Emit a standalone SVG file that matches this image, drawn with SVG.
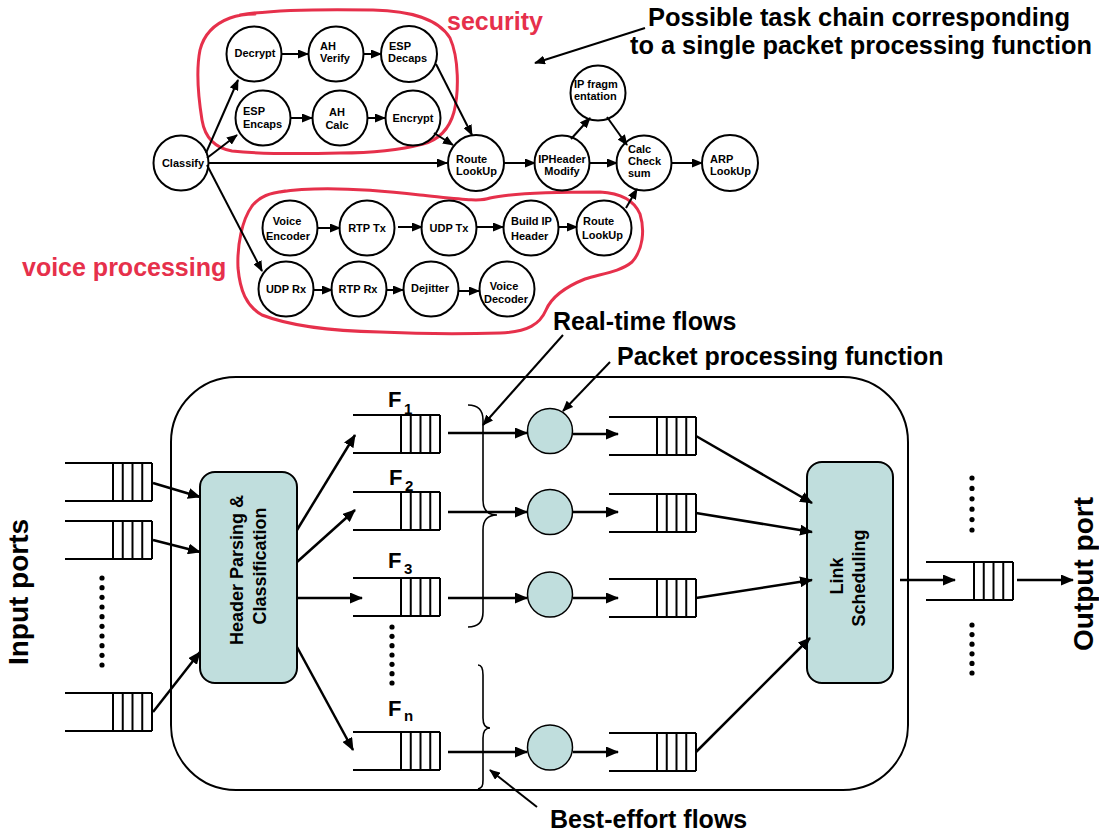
<svg xmlns="http://www.w3.org/2000/svg" width="1099" height="833" viewBox="0 0 1099 833">
  <style>
    text { font-family: "Liberation Sans", Arial, Helvetica, sans-serif; font-weight: bold; fill: #000; }
    .n { font-size: 11px; }
    .mid { text-anchor: middle; }
    .big { font-size: 25px; }
    .port { font-size: 28px; text-anchor: middle; }
    .box { font-size: 18px; text-anchor: middle; }
    .red { fill: #e6304b; }
    .task { fill: #fff; stroke: #000; stroke-width: 2; }
    .blob { fill: none; stroke: #e6304b; stroke-width: 3; stroke-linecap: round; stroke-linejoin: round; }
    .a { fill: none; stroke: #000; stroke-width: 2; marker-end: url(#ah); }
    .b { fill: none; stroke: #000; stroke-width: 2.5; marker-end: url(#bh); }
    .l { fill: none; stroke: #000; stroke-width: 2.5; }
    .q line { stroke: #000; stroke-width: 2; }
    .proc { fill: #c0dedd; stroke: #000; stroke-width: 1.5; }
    .stage { fill: #c0dedd; stroke: #000; stroke-width: 2; }
    .brace { fill: none; stroke: #000; stroke-width: 1.6; }
    .dot { fill: #000; }
  </style>
  <defs>
    <marker id="ah" markerUnits="userSpaceOnUse" markerWidth="11" markerHeight="9" refX="10" refY="4.5" orient="auto">
      <path d="M0,0 L11,4.5 L0,9 z" fill="#000"/>
    </marker>
    <marker id="bh" markerUnits="userSpaceOnUse" markerWidth="13" markerHeight="11" refX="12" refY="5.5" orient="auto">
      <path d="M0,0 L13,5.5 L0,11 z" fill="#000"/>
    </marker>
    <!-- FIFO queue: origin at the top of the closed right end -->
    <g id="queue" class="q">
      <line x1="-87" y1="0" x2="0" y2="0"/>
      <line x1="-87" y1="38" x2="0" y2="38"/>
      <line x1="-39" y1="0" x2="-39" y2="38"/>
      <line x1="-29.25" y1="0" x2="-29.25" y2="38"/>
      <line x1="-19.5" y1="0" x2="-19.5" y2="38"/>
      <line x1="-9.75" y1="0" x2="-9.75" y2="38"/>
      <line x1="0" y1="0" x2="0" y2="38"/>
    </g>
  </defs>

  <rect width="1099" height="833" fill="#fff"/>

  <!-- ===== task chain ===== -->
  <g id="group-security">
    <path class="blob" d="M240,15 C270,10 320,9 373,10 C410,11 438,18 450,38 C459,58 459,92 454,112 C449,130 438,140 423,144 C400,150 370,153 340,153 C300,154 260,154 232,151 C215,148 205,138 202,120 C198,95 196,70 200,50 C204,34 214,24 230,18 C238,15 248,14 255,14"/>
    <text class="big red" x="447" y="30">security</text>
  </g>
  <g id="group-voice">
    <path class="blob" d="M280,192 C310,187 360,188 420,195 C460,199 480,202 490,198 C510,193 560,192 600,192 C620,193 634,200 640,214 C645,230 643,250 632,262 C620,272 600,274 585,279 C565,287 552,296 546,310 C540,324 528,332 500,333 C470,334 420,334 380,332 C330,331 290,326 262,315 C246,306 240,290 238,268 C237,245 242,220 252,206 C260,196 270,193 285,191"/>
    <text class="big red" x="22" y="276">voice processing</text>
  </g>

  <text class="big" x="648" y="26" textLength="422" lengthAdjust="spacingAndGlyphs">Possible task chain corresponding</text>
  <text class="big" x="630" y="54" textLength="462" lengthAdjust="spacingAndGlyphs">to a single packet processing function</text>

  <g id="classify"><circle class="task" cx="181" cy="163" r="27.5"/><text class="n mid" x="183" y="167">Classify</text></g>
  <g id="decrypt"><circle class="task" cx="254" cy="54" r="27.5"/><text class="n mid" x="255" y="57">Decrypt</text></g>
  <g id="ah-verify"><circle class="task" cx="336" cy="54" r="27.5"/><text class="n" x="320" y="50">AH</text><text class="n" x="320" y="62">Verify</text></g>
  <g id="esp-decaps"><circle class="task" cx="409" cy="54" r="28"/><text class="n" x="389" y="50">ESP</text><text class="n" x="388" y="62">Decaps</text></g>
  <g id="esp-encaps"><circle class="task" cx="263" cy="118" r="27.5"/><text class="n" x="243" y="115">ESP</text><text class="n" x="243" y="128">Encaps</text></g>
  <g id="ah-calc"><circle class="task" cx="340" cy="118" r="27.5"/><text class="n mid" x="337" y="116">AH</text><text class="n mid" x="337" y="129">Calc</text></g>
  <g id="encrypt"><circle class="task" cx="413" cy="118" r="27.5"/><text class="n mid" x="413" y="122">Encrypt</text></g>
  <g id="route-lookup"><circle class="task" cx="476" cy="163" r="28"/><text class="n" x="456" y="163">Route</text><text class="n" x="456" y="175">LookUp</text></g>
  <g id="ipheader-modify"><circle class="task" cx="562" cy="163" r="27.5"/><text class="n mid" x="562" y="163">IPHeader</text><text class="n mid" x="562" y="175">Modify</text></g>
  <g id="ip-fragmentation"><circle class="task" cx="598" cy="93" r="27.5"/><text class="n" x="574" y="88">IP fragm</text><text class="n" x="574" y="100">entation</text></g>
  <g id="calc-checksum"><circle class="task" cx="644" cy="163" r="27.5"/><text class="n" x="628" y="153">Calc</text><text class="n" x="628" y="165">Check</text><text class="n" x="628" y="177">sum</text></g>
  <g id="arp-lookup"><circle class="task" cx="730" cy="163" r="28"/><text class="n" x="710" y="163">ARP</text><text class="n" x="710" y="175">LookUp</text></g>

  <g id="voice-encoder"><circle class="task" cx="290" cy="228" r="27.5"/><text class="n mid" x="287" y="225">Voice</text><text class="n mid" x="288" y="240">Encoder</text></g>
  <g id="rtp-tx"><circle class="task" cx="367" cy="228" r="27.5"/><text class="n mid" x="367" y="232">RTP Tx</text></g>
  <g id="udp-tx"><circle class="task" cx="449" cy="228" r="27.5"/><text class="n mid" x="449" y="232">UDP Tx</text></g>
  <g id="build-ip-header"><circle class="task" cx="531" cy="228" r="27.5"/><text class="n" x="511" y="225">Build IP</text><text class="n" x="511" y="240">Header</text></g>
  <g id="voice-route-lookup"><circle class="task" cx="604" cy="228" r="27.5"/><text class="n" x="583" y="225">Route</text><text class="n" x="582" y="239">LookUp</text></g>
  <g id="udp-rx"><circle class="task" cx="286" cy="289" r="27.5"/><text class="n mid" x="286" y="293">UDP Rx</text></g>
  <g id="rtp-rx"><circle class="task" cx="359" cy="289" r="27.5"/><text class="n mid" x="358" y="293">RTP Rx</text></g>
  <g id="dejitter"><circle class="task" cx="431" cy="289" r="27.5"/><text class="n mid" x="430" y="292">Dejitter</text></g>
  <g id="voice-decoder"><circle class="task" cx="507" cy="289" r="27.5"/><text class="n mid" x="504" y="290">Voice</text><text class="n mid" x="506" y="303">Decoder</text></g>

  <!-- ===== router pipeline ===== -->
  <g id="router">
    <rect x="171" y="377" width="737" height="413" rx="65" ry="65" fill="none" stroke="#000" stroke-width="2"/>
  </g>

  <g id="input-queues">
    <use href="#queue" x="152" y="463"/>
    <use href="#queue" x="152" y="521"/>
    <use href="#queue" x="152" y="693"/>
    <g class="dot">
      <circle cx="102" cy="578" r="2.6"/><circle cx="102" cy="587.7" r="2.6"/><circle cx="102" cy="597.3" r="2.6"/><circle cx="102" cy="607" r="2.6"/><circle cx="102" cy="616.7" r="2.6"/>
      <circle cx="102" cy="626.3" r="2.6"/><circle cx="102" cy="636" r="2.6"/><circle cx="102" cy="645.7" r="2.6"/><circle cx="102" cy="655.3" r="2.6"/><circle cx="102" cy="665" r="2.6"/>
    </g>
    <text class="port" transform="translate(28,592) rotate(-90)">Input ports</text>
  </g>

  <g id="header-parsing">
    <rect class="stage" x="200" y="472" width="97" height="211" rx="15" ry="15"/>
    <text class="box" transform="translate(243,570) rotate(-90)">Header Parsing &amp;</text>
    <text class="box" transform="translate(266,566) rotate(-90)">Classification</text>
  </g>

  <g id="flow-queues">
    <use href="#queue" x="440" y="415"/>
    <use href="#queue" x="440" y="492"/>
    <use href="#queue" x="440" y="578"/>
    <use href="#queue" x="440" y="732"/>
    <text x="388" y="407" font-size="22">F</text><text x="404" y="414" font-size="15">1</text>
    <text x="389" y="485" font-size="22">F</text><text x="405" y="491" font-size="15">2</text>
    <text x="388" y="568" font-size="22">F</text><text x="404" y="574" font-size="15">3</text>
    <text x="388" y="716" font-size="22">F</text><text x="404" y="721" font-size="15">n</text>
    <g class="dot">
      <circle cx="392" cy="627" r="2.6"/><circle cx="392" cy="636.3" r="2.6"/><circle cx="392" cy="645.7" r="2.6"/><circle cx="392" cy="655" r="2.6"/>
      <circle cx="392" cy="664.3" r="2.6"/><circle cx="392" cy="673.7" r="2.6"/><circle cx="392" cy="683" r="2.6"/>
    </g>
  </g>

  <g id="flow-groups">
    <path class="brace" d="M468,405 C478,405 483,410 483,420 L483,500 C483,510 487,515 497,515 C487,515 483,520 483,530 L483,612 C483,622 478,627 468,627"/>
    <path class="brace" d="M478,665 C482,665 483,670 483,675 L483,718 C483,724 485,728 490,728 C485,728 483,732 483,738 L483,780 C483,786 482,788 478,789"/>
    <text class="big" x="553" y="330">Real-time flows</text>
    <text class="big" x="617" y="365">Packet processing function</text>
    <text class="big" x="550" y="828">Best-effort flows</text>
  </g>

  <g id="processing-functions">
    <circle class="proc" cx="550" cy="431" r="22.5"/>
    <circle class="proc" cx="550" cy="512" r="22.5"/>
    <circle class="proc" cx="550" cy="594.5" r="22.5"/>
    <circle class="proc" cx="550" cy="747.5" r="22.5"/>
  </g>

  <g id="output-queues">
    <use href="#queue" x="696" y="417"/>
    <use href="#queue" x="696" y="494"/>
    <use href="#queue" x="696" y="579"/>
    <use href="#queue" x="696" y="733"/>
  </g>

  <g id="link-scheduling">
    <rect class="stage" x="807" y="462" width="86" height="221" rx="15" ry="15"/>
    <text class="box" transform="translate(843,576) rotate(-90)">Link</text>
    <text class="box" transform="translate(865,578) rotate(-90)">Scheduling</text>
  </g>

  <g id="output-port">
    <use href="#queue" x="1013" y="562"/>
    <g class="dot">
      <circle cx="972" cy="478" r="2.6"/><circle cx="972" cy="488.4" r="2.6"/><circle cx="972" cy="498.8" r="2.6"/><circle cx="972" cy="509.2" r="2.6"/><circle cx="972" cy="519.6" r="2.6"/><circle cx="972" cy="530" r="2.6"/>
      <circle cx="972" cy="625" r="2.6"/><circle cx="972" cy="634.6" r="2.6"/><circle cx="972" cy="644.2" r="2.6"/><circle cx="972" cy="653.8" r="2.6"/><circle cx="972" cy="663.4" r="2.6"/><circle cx="972" cy="673" r="2.6"/>
    </g>
    <text class="port" transform="translate(1093,574) rotate(-90)">Output port</text>
  </g>

  <!-- ===== connectors ===== -->
  <g id="connectors">
    <!-- task chain -->
    <line class="a" x1="645" y1="28" x2="535" y2="63"/>
    <line class="a" x1="281" y1="54" x2="308" y2="54"/>
    <line class="a" x1="363" y1="54" x2="381" y2="54"/>
    <line class="a" x1="290" y1="118" x2="312" y2="118"/>
    <line class="a" x1="367" y1="118" x2="385" y2="118"/>
    <line class="a" x1="436" y1="64" x2="472" y2="135"/>
    <line class="a" x1="434" y1="133" x2="453" y2="145"/>
    <line class="a" x1="206" y1="153" x2="238" y2="80"/>
    <line class="a" x1="207" y1="158" x2="237" y2="135"/>
    <line class="a" x1="208" y1="163" x2="447" y2="163"/>
    <line class="a" x1="207" y1="165" x2="262" y2="271"/>
    <line class="a" x1="504" y1="163" x2="535" y2="163"/>
    <line class="a" x1="571" y1="139" x2="590" y2="118"/>
    <line class="a" x1="590" y1="163" x2="617" y2="163"/>
    <line class="a" x1="607" y1="117" x2="627" y2="145"/>
    <line class="a" x1="672" y1="163" x2="702" y2="163"/>
    <line class="a" x1="318" y1="228" x2="340" y2="228"/>
    <line class="a" x1="398" y1="227" x2="422" y2="227"/>
    <line class="a" x1="477" y1="227" x2="503" y2="227"/>
    <line class="a" x1="558" y1="227" x2="577" y2="227"/>
    <line class="a" x1="313" y1="290" x2="332" y2="290"/>
    <line class="a" x1="387" y1="290" x2="403" y2="290"/>
    <line class="a" x1="458" y1="291" x2="479" y2="291"/>
    <line class="a" x1="626" y1="208" x2="637" y2="189"/>

    <!-- callouts -->
    <line class="a" x1="563" y1="335" x2="483" y2="425"/>
    <line class="a" x1="610" y1="362" x2="563" y2="411"/>
    <line class="a" x1="537" y1="807" x2="490" y2="770"/>

    <!-- router pipeline -->
    <line class="b" x1="153" y1="483" x2="200" y2="497"/>
    <line class="b" x1="153" y1="540" x2="200" y2="552"/>
    <line class="b" x1="153" y1="712" x2="200" y2="652"/>
    <line class="b" x1="297" y1="530" x2="355" y2="435"/>
    <line class="b" x1="297" y1="562" x2="355" y2="510"/>
    <line class="b" x1="297" y1="598" x2="362" y2="598"/>
    <line class="b" x1="297" y1="647" x2="353" y2="750"/>
    <line class="b" x1="448" y1="433" x2="527" y2="433"/>
    <line class="b" x1="448" y1="512" x2="527" y2="512"/>
    <line class="b" x1="448" y1="598" x2="527" y2="598"/>
    <line class="b" x1="448" y1="752" x2="527" y2="752"/>
    <line class="b" x1="573" y1="434" x2="618" y2="434"/>
    <line class="b" x1="573" y1="512" x2="618" y2="512"/>
    <line class="b" x1="573" y1="598" x2="618" y2="598"/>
    <line class="b" x1="573" y1="752" x2="618" y2="752"/>
    <line class="b" x1="696" y1="436" x2="812" y2="503"/>
    <line class="b" x1="696" y1="513" x2="812" y2="532"/>
    <line class="b" x1="696" y1="598" x2="812" y2="580"/>
    <line class="b" x1="696" y1="752" x2="810" y2="638"/>
    <line class="b" x1="900" y1="580" x2="955" y2="580"/>
    <line class="b" x1="1017" y1="580" x2="1073" y2="580"/>
  </g>
</svg>
